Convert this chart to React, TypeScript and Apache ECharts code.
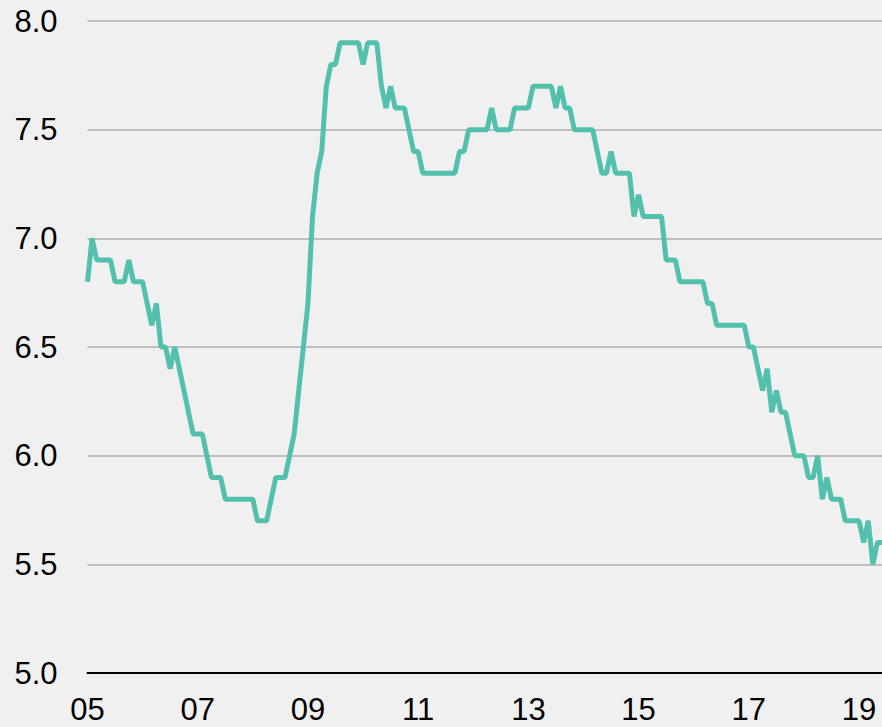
import React, { useEffect, useRef } from "react";
import * as echarts from "echarts";

// Monthly values, Jan 2005 onward
const v2005 = [6.8, 7.0, 6.9, 6.9, 6.9, 6.9, 6.8, 6.8, 6.8, 6.9, 6.8, 6.8];
const v2006 = [6.8, 6.7, 6.6, 6.7, 6.5, 6.5, 6.4, 6.5, 6.4, 6.3, 6.2, 6.1];
const v2007 = [6.1, 6.1, 6.0, 5.9, 5.9, 5.9, 5.8, 5.8, 5.8, 5.8, 5.8, 5.8];
const v2008 = [5.8, 5.7, 5.7, 5.7, 5.8, 5.9, 5.9, 5.9, 6.0, 6.1, 6.3, 6.5];
const v2009 = [6.7, 7.1, 7.3, 7.4, 7.7, 7.8, 7.8, 7.9, 7.9, 7.9, 7.9, 7.9];
const v2010 = [7.8, 7.9, 7.9, 7.9, 7.7, 7.6, 7.7, 7.6, 7.6, 7.6, 7.5, 7.4];
const v2011 = [7.4, 7.3, 7.3, 7.3, 7.3, 7.3, 7.3, 7.3, 7.3, 7.4, 7.4, 7.5];
const v2012 = [7.5, 7.5, 7.5, 7.5, 7.6, 7.5, 7.5, 7.5, 7.5, 7.6, 7.6, 7.6];
const v2013 = [7.6, 7.7, 7.7, 7.7, 7.7, 7.7, 7.6, 7.7, 7.6, 7.6, 7.5, 7.5];
const v2014 = [7.5, 7.5, 7.5, 7.4, 7.3, 7.3, 7.4, 7.3, 7.3, 7.3, 7.3, 7.1];
const v2015 = [7.2, 7.1, 7.1, 7.1, 7.1, 7.1, 6.9, 6.9, 6.9, 6.8, 6.8, 6.8];
const v2016 = [6.8, 6.8, 6.8, 6.7, 6.7, 6.6, 6.6, 6.6, 6.6, 6.6, 6.6, 6.6];
const v2017 = [6.5, 6.5, 6.4, 6.3, 6.4, 6.2, 6.3, 6.2, 6.2, 6.1, 6.0, 6.0];
const v2018 = [6.0, 5.9, 5.9, 6.0, 5.8, 5.9, 5.8, 5.8, 5.8, 5.7, 5.7, 5.7];
const v2019 = [5.7, 5.6, 5.7, 5.5, 5.6, 5.6];

const yearly = [
  v2005, v2006, v2007, v2008, v2009, v2010, v2011, v2012,
  v2013, v2014, v2015, v2016, v2017, v2018, v2019,
];
const startYear = 2005;

const values: number[] = [];
const months: string[] = [];
yearly.forEach((arr, yi) => {
  arr.forEach((v, mi) => {
    values.push(v);
    months.push(`${startYear + yi}-${String(mi + 1).padStart(2, "0")}`);
  });
});

const FONT = "'Liberation Sans', Arial, sans-serif";

export default function App() {
  const ref = useRef<HTMLDivElement>(null);

  useEffect(() => {
    document.body.style.margin = "0";
    document.body.style.background = "#f0f0f0";
    if (!ref.current) return;
    const chart = echarts.init(ref.current, undefined, { renderer: "svg" });
    chart.setOption({
      animation: false,
      backgroundColor: "#f0f0f0",
      grid: { left: 87.5, right: -3, top: 21, bottom: 54, containLabel: false },
      xAxis: {
        type: "category",
        data: months,
        boundaryGap: false,
        axisLine: { show: true, lineStyle: { color: "#000", width: 2 } },
        axisTick: { show: false },
        splitLine: { show: false },
        axisLabel: {
          interval: 23,
          formatter: (v: string) => v.slice(2, 4),
          fontSize: 31,
          color: "#000",
          fontFamily: FONT,
          margin: 21,
        },
      },
      yAxis: {
        type: "value",
        min: 5,
        max: 8,
        interval: 0.5,
        axisLine: { show: false },
        axisTick: { show: false },
        splitLine: { show: true, lineStyle: { color: "#bfbfbf", width: 2 } },
        axisLabel: {
          formatter: (v: number) => v.toFixed(1),
          fontSize: 31,
          color: "#000",
          fontFamily: FONT,
          margin: 30,
        },
      },
      series: [
        {
          type: "line",
          data: values,
          showSymbol: false,
          symbol: "none",
          lineStyle: { color: "#52c0ad", width: 5 },
          z: 5,
        },
      ],
    });
    return () => chart.dispose();
  }, []);

  return (
    <div
      ref={ref}
      style={{ position: "absolute", left: 0, top: 0, width: 882, height: 727 }}
    />
  );
}
